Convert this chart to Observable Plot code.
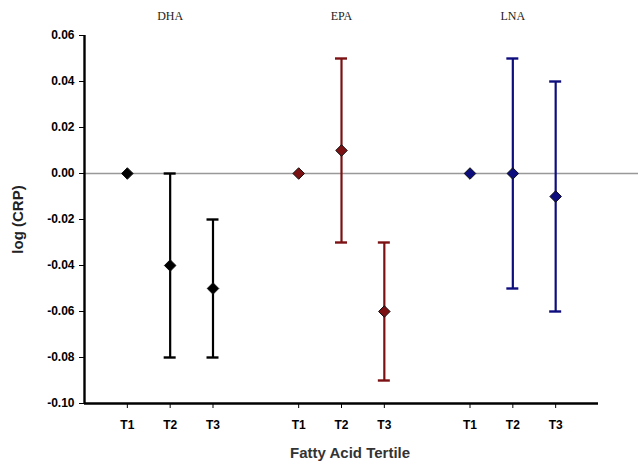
<!DOCTYPE html>
<html>
<head>
<meta charset="utf-8">
<script src="https://cdn.jsdelivr.net/npm/d3@7"></script>
<script src="https://cdn.jsdelivr.net/npm/@observablehq/plot@0.6"></script>
<style>
  html, body { margin: 0; padding: 0; background: #fff; }
  #chart { width: 638px; height: 464px; }
</style>
</head>
<body>
<div id="chart"></div>
<script>
const groups = ["DHA", "EPA", "LNA"];
const groupColors = ["#000000", "#7b1113", "#0d0d7d"];
const tertiles = ["T1", "T2", "T3"];
const groupSlots = [[1, 2, 3], [5, 6, 7], [9, 10, 11]];
const estimates = [[0, -0.04, -0.05], [0, 0.01, -0.06], [0, 0, -0.01]];
const lowers = [[null, -0.08, -0.08], [null, -0.03, -0.09], [null, -0.05, -0.06]];
const uppers = [[null, 0.00, -0.02], [null, 0.05, -0.03], [null, 0.05, 0.04]];
const yTicks = [0.06, 0.04, 0.02, 0.00, -0.02, -0.04, -0.06, -0.08, -0.10];

const rows = [];
groups.forEach((g, gi) => tertiles.forEach((t, ti) => rows.push({
  group: g, color: groupColors[gi], tertile: t, pos: groupSlots[gi][ti],
  est: estimates[gi][ti], lo: lowers[gi][ti], hi: uppers[gi][ti]
})));
const errRows = rows.filter(d => d.lo !== null);
const labelRows = groups.map((g, gi) => ({group: g, pos: groupSlots[gi][1]}));
const capHalf = 0.14;
const sans = "'Liberation Sans', Arial, sans-serif";

const plot = Plot.plot({
  width: 638,
  height: 464,
  marginLeft: 84,
  marginRight: 40,
  marginTop: 35,
  marginBottom: 61,
  style: {fontFamily: sans, background: "#fff"},
  x: {type: "linear", domain: [0, 12], axis: null},
  y: {type: "linear", domain: [-0.10, 0.06], axis: null},
  marks: [
    // zero reference line (extends to the right edge)
    Plot.ruleY([0], {x1: 0, x2: 12.94, stroke: "#999", strokeWidth: 1.3}),
    // error bars
    Plot.ruleX(errRows, {x: "pos", y1: "lo", y2: "hi", stroke: "color", strokeWidth: 2.2}),
    Plot.ruleY(errRows, {y: "lo", x1: d => d.pos - capHalf, x2: d => d.pos + capHalf, stroke: "color", strokeWidth: 2.4}),
    Plot.ruleY(errRows, {y: "hi", x1: d => d.pos - capHalf, x2: d => d.pos + capHalf, stroke: "color", strokeWidth: 2.4}),
    // points
    Plot.dot(rows, {x: "pos", y: "est", symbol: "diamond2", r: 5.2, fill: "color", stroke: "#111", strokeWidth: 1}),
    // axes lines
    Plot.ruleX([0], {y1: -0.10, y2: 0.06, stroke: "#000", strokeWidth: 2.4}),
    Plot.ruleY([-0.10], {x1: 0, x2: 12, stroke: "#000", strokeWidth: 2.4}),
    // y ticks
    Plot.axisY({ticks: yTicks, tickSize: 5, tickWidth: 1.8, stroke: "#000", tickFormat: d => d.toFixed(2), fontSize: 12, fontWeight: "bold", tickPadding: 5, label: null}),
    // x ticks
    Plot.axisX({ticks: rows.map(d => d.pos), tickFormat: p => rows.find(d => d.pos === p).tertile, tickSize: 5, tickWidth: 1.8, stroke: "#000", fontSize: 12, fontWeight: "bold", tickPadding: 12, label: null}),
    // group labels
    Plot.text(labelRows, {x: "pos", y: 0.06, dy: -19, text: "group", fontFamily: "'Liberation Serif', 'Times New Roman', serif", fontSize: 12, fill: "#222"}),
    // axis titles
    Plot.text(["Fatty Acid Tertile"], {x: 6.2, y: -0.10, dy: 50, text: d => d, fontSize: 15, fontWeight: "bold", fill: "#333"}),
    Plot.text(["log (CRP)"], {x: 0, y: -0.02, dx: -66, rotate: -90, text: d => d, fontSize: 15, fontWeight: "bold", fill: "#222"})
  ]
});
document.getElementById("chart").appendChild(plot);
</script>
</body>
</html>
